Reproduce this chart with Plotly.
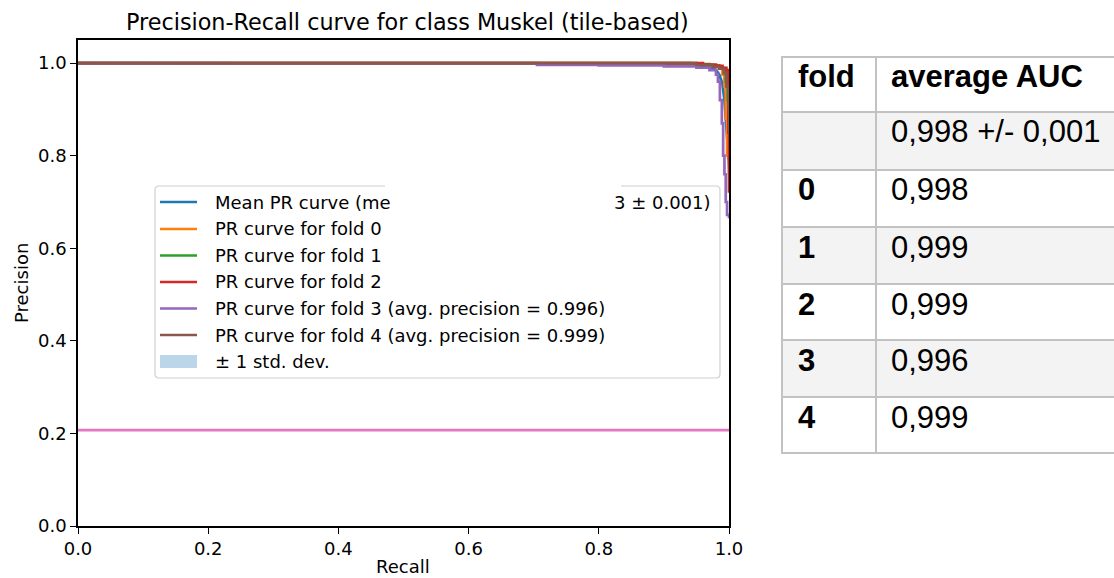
import plotly.graph_objects as go

W, H = 1114, 578

# ---- PR curves per fold (recall, precision) ----
recall_fold0 = [0.0, 0.88, 0.95, 0.975, 0.985, 0.990, 0.993, 0.995, 0.997, 1.0]
prec_fold0 = [1.0, 1.0, 0.997, 0.993, 0.988, 0.975, 0.950, 0.880, 0.800, 0.780]

recall_fold1 = [0.0, 0.86, 0.94, 0.97, 0.985, 0.992, 0.995, 0.998, 1.0]
prec_fold1 = [1.0, 1.0, 0.998, 0.995, 0.990, 0.982, 0.960, 0.920, 0.900]

recall_fold2 = [0.0, 0.90, 0.96, 0.98, 0.99, 0.996, 0.998, 0.999, 1.0]
prec_fold2 = [1.0, 1.0, 0.997, 0.994, 0.990, 0.985, 0.950, 0.850, 0.720]

recall_fold3 = [0.0, 0.70, 0.705, 0.80, 0.90, 0.95, 0.97, 0.98, 0.983, 0.986,
                0.989, 0.991, 0.993, 0.995, 0.997, 1.0]
prec_fold3 = [1.0, 1.0, 0.996, 0.995, 0.993, 0.990, 0.985, 0.975, 0.960, 0.920,
              0.870, 0.800, 0.760, 0.700, 0.672, 0.665]

recall_fold4 = [0.0, 0.90, 0.95, 0.975, 0.985, 0.992, 0.996, 0.999, 1.0]
prec_fold4 = [1.0, 1.0, 0.996, 0.992, 0.988, 0.978, 0.950, 0.900, 0.850]

# ---- mean curve and its spread ----
recall_mean = [0.0, 0.90, 0.95, 0.97, 0.98, 0.985, 0.99, 0.993, 0.996, 1.0]
prec_mean = [1.0, 0.999, 0.996, 0.992, 0.985, 0.975, 0.955, 0.920, 0.860, 0.790]
prec_std = [0.0, 0.001, 0.002, 0.003, 0.005, 0.008, 0.012, 0.025, 0.050, 0.070]

# no-skill baseline (share of positives)
baseline_recall = [0.0, 1.0]
baseline_prec = [0.207, 0.207]

fold_curves = [
    (recall_fold0, prec_fold0, "#ff7f0e"),
    (recall_fold1, prec_fold1, "#2ca02c"),
    (recall_fold2, prec_fold2, "#d62728"),
    (recall_fold3, prec_fold3, "#9467bd"),
    (recall_fold4, prec_fold4, "#8c564b"),
]

# ---- legend entries ----
legend_labels = [
    "Mean PR curve (me",
    "PR curve for fold 0",
    "PR curve for fold 1",
    "PR curve for fold 2",
    "PR curve for fold 3 (avg. precision = 0.996)",
    "PR curve for fold 4 (avg. precision = 0.999)",
    "± 1 std. dev.",
]
legend_colors = ["#1f77b4", "#ff7f0e", "#2ca02c", "#d62728", "#9467bd", "#8c564b", None]
legend_tail = "3 ± 0.001)"

# ---- summary table ----
table_header = ["fold", "average AUC"]
table_folds = ["", "0", "1", "2", "3", "4"]
table_auc = ["0,998 +/- 0,001", "0,998", "0,999", "0,999", "0,996", "0,999"]


def px(x):
    return x / W


def py(y):
    return 1 - y / H


LW = 2.7
fig = go.Figure()

upper = [min(m + s, 1.0) for m, s in zip(prec_mean, prec_std)]
lower = [m - s for m, s in zip(prec_mean, prec_std)]

fig.add_trace(go.Scatter(x=recall_mean, y=prec_mean, mode="lines",
                         line=dict(color="#1f77b4", width=LW)))
fig.add_trace(go.Scatter(x=recall_mean, y=lower, mode="lines",
                         line=dict(width=0), hoverinfo="skip"))
fig.add_trace(go.Scatter(x=recall_mean, y=upper, mode="lines", fill="tonexty",
                         fillcolor="rgba(31,119,180,0.3)", line=dict(width=0),
                         hoverinfo="skip"))
for rx, ry, col in fold_curves:
    fig.add_trace(go.Scatter(x=rx, y=ry, mode="lines", line_shape="hv",
                             line=dict(color=col, width=LW)))
fig.add_trace(go.Scatter(x=baseline_recall, y=baseline_prec, mode="lines",
                         line=dict(color="#e377c2", width=LW)))

X0, X1, Y0, Y1 = 78, 729, 526, 40
ticks = [0, 0.2, 0.4, 0.6, 0.8, 1.0]
tick_text = ["0.0", "0.2", "0.4", "0.6", "0.8", "1.0"]
axis_common = dict(showgrid=False, zeroline=False, showline=True, linecolor="black",
                   linewidth=1.5, mirror=True, ticks="outside", ticklen=6,
                   tickwidth=1.4, tickcolor="black", automargin=False,
                   tickvals=ticks, ticktext=tick_text,
                   tickfont=dict(family="DejaVu Sans", size=18, color="black"))
fig.update_xaxes(domain=[px(X0), px(X1)], range=[0, 1.0], **axis_common)
fig.update_yaxes(domain=[py(Y0), py(Y1)], range=[0, 1.05], **axis_common)

shapes = []
annotations = []

# title and axis titles
annotations.append(dict(x=px(407), y=py(22), xref="paper", yref="paper", showarrow=False,
                        text="Precision-Recall curve for class Muskel (tile-based)",
                        font=dict(family="DejaVu Sans", size=22.3, color="black"),
                        xanchor="center", yanchor="middle"))
annotations.append(dict(x=px(403), y=py(566), xref="paper", yref="paper", showarrow=False,
                        text="Recall", font=dict(family="DejaVu Sans", size=18, color="black"),
                        xanchor="center", yanchor="middle"))
annotations.append(dict(x=px(21), y=py(283), xref="paper", yref="paper", showarrow=False,
                        text="Precision", textangle=-90,
                        font=dict(family="DejaVu Sans", size=18, color="black"),
                        xanchor="center", yanchor="middle"))

# legend frame (top edge interrupted)
LX0, LX1, LY0, LY1, R = 155, 720, 186, 378, 4
gap0, gap1 = 385, 621


def P(x, y):
    return f"{px(x):.6f},{py(y):.6f}"


frame = (f"M {P(gap0, LY0)} L {P(LX0 + R, LY0)} Q {P(LX0, LY0)} {P(LX0, LY0 + R)} "
         f"L {P(LX0, LY1 - R)} Q {P(LX0, LY1)} {P(LX0 + R, LY1)} "
         f"L {P(LX1 - R, LY1)} Q {P(LX1, LY1)} {P(LX1, LY1 - R)} "
         f"L {P(LX1, LY0 + R)} Q {P(LX1, LY0)} {P(LX1 - R, LY0)} L {P(gap1, LY0)}")
shapes.append(dict(type="path", xref="paper", yref="paper", path=frame,
                   line=dict(color="#d0d0d0", width=1.2)))

row_y = [202, 229, 255.5, 282, 308.5, 335, 361.5]
for lab, col, yy in zip(legend_labels, legend_colors, row_y):
    if col is not None:
        shapes.append(dict(type="line", xref="paper", yref="paper",
                           x0=px(160), x1=px(197), y0=py(yy), y1=py(yy),
                           line=dict(color=col, width=LW)))
    else:
        shapes.append(dict(type="rect", xref="paper", yref="paper",
                           x0=px(160), x1=px(197), y0=py(yy - 6.5), y1=py(yy + 6.5),
                           fillcolor="rgba(31,119,180,0.3)", line=dict(width=0)))
    annotations.append(dict(x=px(213), y=py(yy), xref="paper", yref="paper", showarrow=False,
                            text=lab, font=dict(family="DejaVu Sans", size=18, color="black"),
                            xanchor="left", yanchor="middle"))
annotations.append(dict(x=px(713), y=py(row_y[0]), xref="paper", yref="paper", showarrow=False,
                        text=legend_tail, font=dict(family="DejaVu Sans", size=18, color="black"),
                        xanchor="right", yanchor="middle"))

# summary table
TX0, TXC, TX1 = 782, 876, W + 2
row_lines = [57, 112, 170, 227, 284, 340, 397, 453]
for i in range(7):
    if i in (1, 3, 5):
        shapes.append(dict(type="rect", xref="paper", yref="paper", layer="below",
                           x0=px(TX0), x1=px(TX1), y0=py(row_lines[i]), y1=py(row_lines[i + 1]),
                           fillcolor="#f3f3f3", line=dict(width=0)))
grid_col = "#c2c2c2"
for yy in row_lines:
    shapes.append(dict(type="line", xref="paper", yref="paper",
                       x0=px(TX0 - 1), x1=px(TX1), y0=py(yy), y1=py(yy),
                       line=dict(color=grid_col, width=2)))
for xx in (TX0, TXC):
    shapes.append(dict(type="line", xref="paper", yref="paper",
                       x0=px(xx), x1=px(xx), y0=py(row_lines[0]), y1=py(row_lines[-1]),
                       line=dict(color=grid_col, width=2)))

TFONT = "Liberation Sans, Arial, sans-serif"
TSIZE = 31
cells = [(table_header[0], table_header[1], True, True)]
for f, a in zip(table_folds, table_auc):
    cells.append((f, a, True, False))
for i, (c1, c2, b1, b2) in enumerate(cells):
    yc = row_lines[i] + 20
    if c1:
        annotations.append(dict(x=px(796), y=py(yc), xref="paper", yref="paper", showarrow=False,
                                text=f"<b>{c1}</b>" if b1 else c1,
                                font=dict(family=TFONT, size=TSIZE, color="black"),
                                xanchor="left", yanchor="middle"))
    annotations.append(dict(x=px(889), y=py(yc), xref="paper", yref="paper", showarrow=False,
                            text=f"<b>{c2}</b>" if b2 else c2,
                            font=dict(family=TFONT, size=TSIZE, color="black"),
                            xanchor="left", yanchor="middle"))

fig.update_layout(template="none", width=W, height=H, margin=dict(l=0, r=0, t=0, b=0),
                  paper_bgcolor="white", plot_bgcolor="white", showlegend=False,
                  shapes=shapes, annotations=annotations)

fig.write_html("out.html")
